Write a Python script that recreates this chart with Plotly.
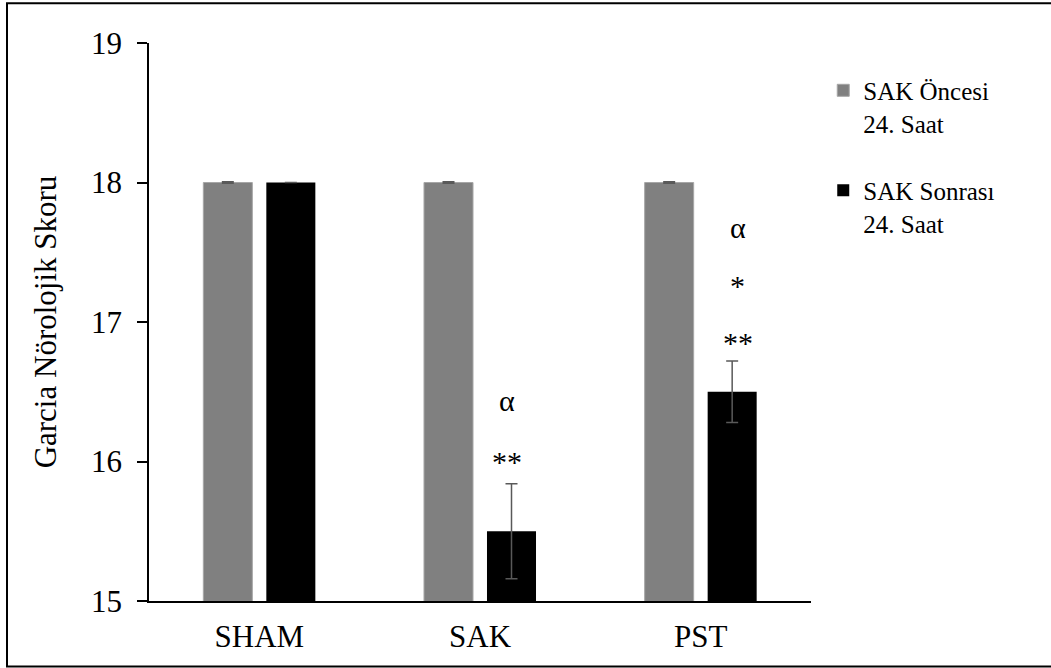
import plotly.graph_objects as go

# Group names and Garcia neurological score (mean ± error)
groups = ["SHAM", "SAK", "PST"]
before_mean = [18.0, 18.0, 18.0]
before_err = [0.0, 0.0, 0.0]
after_mean = [18.0, 15.5, 16.5]
after_err = [0.0, 0.34, 0.22]

# Significance marks drawn above the post-SAH bars
mark_group = ["SAK", "SAK", "PST", "PST", "PST"]
mark_text = ["**", "α", "**", "*", "α"]
mark_y = [16.0, 16.44, 16.85, 17.26, 17.68]
mark_shift = [27, 27, 37, 37, 37]

FONT = "Liberation Serif"

fig = go.Figure()
fig.add_trace(go.Bar(
    x=groups, y=before_mean, name="SAK Öncesi<br>24. Saat",
    marker=dict(color="#808080", line=dict(color="#a6a6a6", width=1)),
    error_y=dict(type="data", array=before_err, visible=True,
                 color="#595959", thickness=3, width=6),
    legendgroup="a",
))
fig.add_trace(go.Bar(
    x=groups, y=after_mean, name="SAK Sonrası<br>24. Saat",
    marker=dict(color="#000000", line=dict(width=0)),
    error_y=dict(type="data", array=after_err, visible=True,
                 color="#595959", thickness=1.5, width=6),
    legendgroup="b",
))

for g, t, y, s in zip(mark_group, mark_text, mark_y, mark_shift):
    fig.add_annotation(x=g, y=y, text=t, showarrow=False, xshift=s,
                       yanchor="middle", xanchor="center",
                       font=dict(family=FONT, size=30, color="black"))

# outer frame around the whole chart
fig.add_shape(type="rect", xref="paper", yref="paper",
              x0=-0.2145, x1=1.4, y0=-0.1173, y1=1.0711,
              line=dict(color="black", width=2), layer="above")

fig.update_layout(
    width=1051, height=668,
    margin=dict(l=149, r=240, t=42.7, b=67),
    paper_bgcolor="white", plot_bgcolor="white",
    barmode="group", bargap=0.429, bargroupgap=0.222,
    font=dict(family=FONT, size=30, color="black"),
    showlegend=True,
    legend=dict(x=1.0185, xanchor="left", y=0.956, yanchor="top",
                font=dict(family=FONT, size=25, color="black"),
                valign="top", tracegroupgap=32, bgcolor="rgba(0,0,0,0)"),
    xaxis=dict(showline=True, linecolor="black", linewidth=1.5,
               ticks="", showgrid=False, zeroline=False,
               ticklabelstandoff=7,
               tickfont=dict(family=FONT, size=31, color="black")),
    yaxis=dict(range=[15, 19], dtick=1, showline=True, linecolor="black",
               linewidth=1.5, ticks="outside", ticklen=10, tickwidth=1.5,
               tickcolor="black", showgrid=False, zeroline=False,
               ticklabelstandoff=9, automargin=True,
               tickfont=dict(family=FONT, size=31, color="black"),
               title=dict(text="Garcia Nörolojik Skoru", standoff=25,
                          font=dict(family=FONT, size=31, color="black"))),
)

fig.write_html("out.html")
